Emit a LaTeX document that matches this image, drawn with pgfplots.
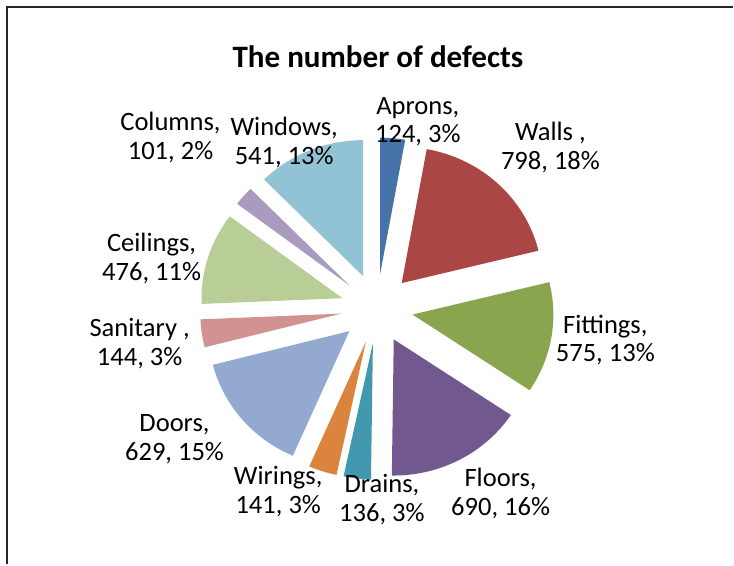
\documentclass[border=0pt]{standalone}
\usepackage{pgfplots}
\pgfplotsset{compat=1.18}
\usepackage{pgfplotstable}
\usepackage{fontspec}
\setmainfont{Carlito}

\definecolor{c0}{HTML}{4572A7}
\definecolor{c1}{HTML}{AA4643}
\definecolor{c2}{HTML}{89A54E}
\definecolor{c3}{HTML}{71588F}
\definecolor{c4}{HTML}{4198AF}
\definecolor{c5}{HTML}{DB843D}
\definecolor{c6}{HTML}{93A9CF}
\definecolor{c7}{HTML}{D19392}
\definecolor{c8}{HTML}{B9CD96}
\definecolor{c9}{HTML}{A99BBD}
\definecolor{c10}{HTML}{92C3D4}

\pgfplotstableread{
name value
Aprons 124
Walls 798
Fittings 575
Floors 690
Drains 136
Wirings 141
Doors 629
Sanitary 144
Ceilings 476
Columns 101
Windows 541
}\defects

\begin{document}
\begin{tikzpicture}
\begin{axis}[scale only axis, width=367pt, height=282.5pt,
  xmin=0, xmax=734, ymin=0, ymax=565, y dir=reverse,
  hide axis, clip=false]
\path (rel axis cs:0,0) rectangle (rel axis cs:1,1);
% total
\def\total{0}
\pgfplotsforeachungrouped \i in {0,...,10}{%
  \pgfplotstablegetelem{\i}{value}\of\defects
  \pgfmathsetmacro\total{\total+\pgfplotsretval}%
}
\def\cum{0}
\pgfplotsforeachungrouped \i in {0,...,10}{%
  \pgfplotstablegetelem{\i}{value}\of\defects
  \pgfmathsetmacro\a{\cum/\total*360}%
  \pgfmathsetmacro\cum{\cum+\pgfplotsretval}%
  \pgfmathsetmacro\b{\cum/\total*360}%
  \pgfmathsetmacro\tx{378+1.035*35*sin((\a+\b)/2)}%
  \pgfmathsetmacro\ty{309.4-35*cos((\a+\b)/2)}%
  \edef\temp{\noexpand\addplot[fill=c\i, draw=none, domain=\a:\b, samples=60, variable=\noexpand\t]
    ({\tx+1.035*136.5*sin(\noexpand\t)},{\ty-136.5*cos(\noexpand\t)}) -- (axis cs:\tx,\ty) -- cycle;}%
  \temp
}
% frame
\draw[line width=1.1pt, black!85] (axis cs:7,566) -- (axis cs:7,7) -- (axis cs:735,7);
% title
\node[font=\fontsize{15.6}{18}\selectfont\bfseries] at (axis cs:379,57) {The number of defects};
% labels
\tikzset{lab/.style={align=center, inner sep=0pt, font=\fontsize{13.3}{14.5}\selectfont}}
\node[lab] at (axis cs:419,122) {Aprons,\\124, 3\%};
\node[lab] at (axis cs:552,148) {Walls ,\\798, 18\%};
\node[lab] at (axis cs:607,341) {Fittings,\\575, 13\%};
\node[lab] at (axis cs:502,495) {Floors,\\690, 16\%};
\node[lab] at (axis cs:383,501) {Drains,\\136, 3\%};
\node[lab] at (axis cs:279,493) {Wirings,\\141, 3\%};
\node[lab] at (axis cs:175,440) {Doors,\\629, 15\%};
\node[lab] at (axis cs:140,345) {Sanitary ,\\144, 3\%};
\node[lab] at (axis cs:152,259) {Ceilings,\\476, 11\%};
\node[lab] at (axis cs:171,138) {Columns,\\101, 2\%};
\node[lab] at (axis cs:285,143) {Windows,\\541, 13\%};
\end{axis}
\end{tikzpicture}
\end{document}
